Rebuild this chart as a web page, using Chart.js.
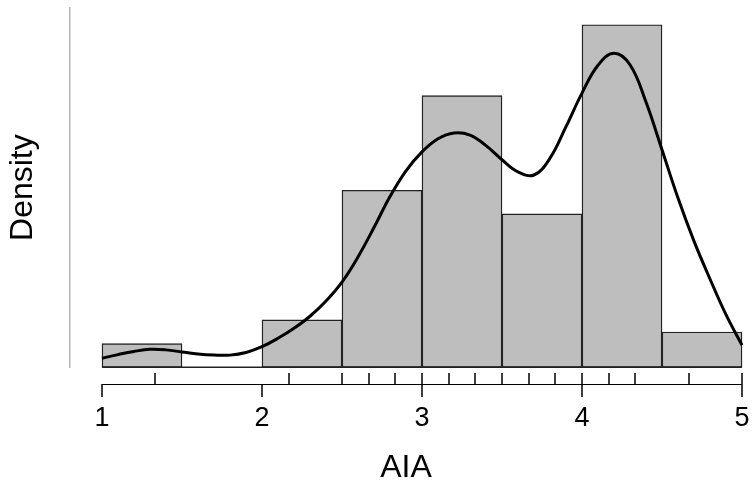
<!DOCTYPE html>
<html>
<head>
<meta charset="utf-8">
<script src="https://cdn.jsdelivr.net/npm/chart.js@4/dist/chart.umd.min.js"></script>
<style>
  html, body { margin: 0; padding: 0; background: #fff; }
  #wrap { width: 752px; height: 489px; }
</style>
</head>
<body>
<div id="wrap"><canvas id="histChart"></canvas></div>
<script>
// histogram bins (width 0.5), density values
const binCenters = [1.25, 1.75, 2.25, 2.75, 3.25, 3.75, 4.25, 4.75];
const binDensity = [0.045, 0, 0.090, 0.337, 0.517, 0.292, 0.652, 0.067];

// density curve, read at 0.1 steps
const curveX = [1.0, 1.1, 1.2, 1.3, 1.4, 1.5, 1.6, 1.7, 1.8, 1.9,
                2.0, 2.1, 2.2, 2.3, 2.4, 2.5, 2.6, 2.7, 2.8, 2.9,
                3.0, 3.1, 3.2, 3.3, 3.4, 3.5, 3.6, 3.7, 3.8, 3.9,
                4.0, 4.1, 4.2, 4.3, 4.4, 4.5, 4.6, 4.7, 4.8, 4.9, 5.0];
const curveY = [0.017, 0.024, 0.030, 0.034, 0.033, 0.029, 0.025, 0.023, 0.023, 0.028,
                0.039, 0.055, 0.074, 0.097, 0.126, 0.162, 0.210, 0.266, 0.325, 0.374,
                0.410, 0.435, 0.446, 0.442, 0.422, 0.395, 0.372, 0.366, 0.398, 0.458,
                0.522, 0.575, 0.598, 0.576, 0.505, 0.414, 0.322, 0.240, 0.168, 0.100, 0.042];

// rug marks under the axis
const rugValues = [1.33, 2.17, 2.5, 2.67, 2.83, 3.0, 3.17, 3.33, 3.5,
                   3.67, 3.83, 4.0, 4.17, 4.33, 4.67, 5.0];
const xTicks = [1, 2, 3, 4, 5];

const FONT = "'Liberation Sans', Arial, Helvetica, sans-serif";

// R-style x axis (line from first to last tick) plus rug, drawn via the scales
const rAxisPlugin = {
  id: 'rAxis',
  afterDatasetsDraw(chart) {
    const c = chart.ctx;
    const x = chart.scales.x;
    const y = chart.scales.y;
    const axisY = Math.round(y.getPixelForValue(0)) + 17;
    c.save();
    c.strokeStyle = '#000';
    c.lineWidth = 1;
    c.beginPath();
    c.moveTo(x.getPixelForValue(xTicks[0]), axisY + 0.5);
    c.lineTo(x.getPixelForValue(xTicks[xTicks.length - 1]), axisY + 0.5);
    c.stroke();
    c.lineWidth = 1.5;
    c.beginPath();
    xTicks.forEach(v => {
      const px = Math.round(x.getPixelForValue(v));
      c.moveTo(px, axisY);
      c.lineTo(px, axisY + 13);
    });
    rugValues.forEach(v => {
      const px = Math.round(x.getPixelForValue(v));
      c.moveTo(px, axisY);
      c.lineTo(px, axisY - 11);
    });
    c.stroke();
    c.restore();
  }
};

const ctx = document.getElementById('histChart').getContext('2d');
const chart = new Chart(ctx, {
  type: 'bar',
  data: {
    datasets: [
      {
        type: 'line',
        label: 'density',
        data: curveX.map((v, i) => ({ x: v, y: curveY[i] })),
        borderColor: '#000',
        borderWidth: 3,
        pointRadius: 0,
        tension: 0.4,
        fill: false,
        clip: false,
        order: 0
      },
      {
        type: 'line',
        label: 'baseline',
        data: [{ x: 1, y: 0 }, { x: 5, y: 0 }],
        borderColor: '#222',
        borderWidth: 1.5,
        pointRadius: 0,
        clip: false,
        order: 1
      },
      {
        label: 'AIA',
        data: binCenters.map((v, i) => ({ x: v, y: binDensity[i] })),
        backgroundColor: '#bebebe',
        borderColor: '#222',
        borderWidth: 1.4,
        borderSkipped: false,
        barPercentage: 1,
        categoryPercentage: 1,
        grouped: false,
        clip: false,
        order: 2
      }
    ]
  },
  options: {
    responsive: true,
    maintainAspectRatio: false,
    animation: false,
    layout: { padding: { left: 0, right: 10, top: 8, bottom: 0 } },
    scales: {
      x: {
        type: 'linear',
        min: 0.8,
        max: 5.0,
        offset: false,
        afterBuildTicks: (scale) => { scale.ticks = xTicks.map(v => ({ value: v })); },
        // invisible tick marks only used to push the labels down
        grid: { display: true, drawOnChartArea: false, drawTicks: true, tickLength: 35, color: 'rgba(0,0,0,0)' },
        border: { display: false },
        ticks: {
          color: '#000',
          padding: 0,
          maxRotation: 0,
          font: { family: FONT, size: 27 }
        },
        title: {
          display: true,
          text: 'AIA',
          color: '#000',
          font: { family: FONT, size: 32 },
          padding: { top: 14, bottom: 2 }
        }
      },
      y: {
        min: 0,
        max: 0.684,
        grid: { display: false, drawTicks: false },
        border: { display: true, color: '#b3b3b3', width: 1.5 },
        ticks: { display: false },
        title: {
          display: true,
          text: 'Density',
          color: '#000',
          font: { family: FONT, size: 32 },
          padding: { top: 3.5, bottom: 28.1 }
        }
      }
    },
    plugins: {
      legend: { display: false },
      tooltip: { enabled: false }
    }
  },
  plugins: [rAxisPlugin]
});
</script>
</body>
</html>
